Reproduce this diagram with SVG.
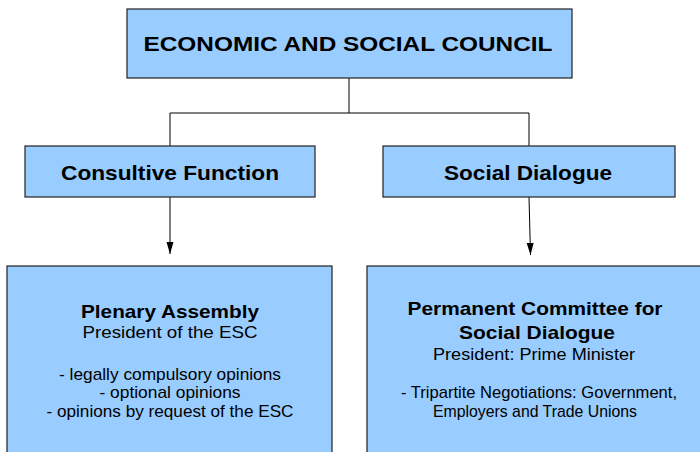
<svg xmlns="http://www.w3.org/2000/svg" width="700" height="452" viewBox="0 0 700 452">
<style>
.box{fill:#99ccff;stroke:#222;stroke-width:1.2}
.ln{fill:none;stroke:#000;stroke-width:1}
text{font-family:"Liberation Sans",Arial,sans-serif;fill:#000;text-anchor:middle}
.b{font-weight:bold}
.t20{font-size:21px}
.t18{font-size:19px}
.t17{font-size:17px}
</style>
<defs>
<marker id="ah" viewBox="0 0 12 8" refX="12" refY="4" markerWidth="12" markerHeight="8" markerUnits="userSpaceOnUse" orient="auto">
<path d="M0,0.5 L12,4 L0,7.5 z" fill="#000"/>
</marker>
</defs>
<rect width="700" height="452" fill="#fff"/>
<g id="connectors">
<path class="ln" d="M349,78 V113 M170,146 V113 H529 V146"/>
<path class="ln" d="M170,197 L170,254" marker-end="url(#ah)"/>
<path class="ln" d="M529,197 L530.5,255" marker-end="url(#ah)"/>
</g>
<g id="council">
<rect class="box" x="127" y="9" width="445" height="69"/>
<text class="b t20" x="348" y="51" textLength="409" lengthAdjust="spacingAndGlyphs">ECONOMIC AND SOCIAL COUNCIL</text>
</g>
<g id="consultive">
<rect class="box" x="25" y="146" width="290" height="51"/>
<text class="b t20" x="170" y="180" textLength="218" lengthAdjust="spacingAndGlyphs">Consultive Function</text>
</g>
<g id="dialogue">
<rect class="box" x="383" y="146" width="292" height="51"/>
<text class="b t20" x="528" y="180" textLength="168" lengthAdjust="spacingAndGlyphs">Social Dialogue</text>
</g>
<g id="plenary">
<rect class="box" x="7" y="266" width="325" height="200"/>
<text class="b t18" x="170" y="318" textLength="178" lengthAdjust="spacingAndGlyphs">Plenary Assembly</text>
<text class="t17" x="170" y="338" textLength="175" lengthAdjust="spacingAndGlyphs">President of the ESC</text>
<text class="t17" x="170" y="380" textLength="222" lengthAdjust="spacingAndGlyphs">- legally compulsory opinions</text>
<text class="t17" x="170" y="398" textLength="141" lengthAdjust="spacingAndGlyphs">- optional opinions</text>
<text class="t17" x="170" y="417" textLength="247" lengthAdjust="spacingAndGlyphs">- opinions by request of the ESC</text>
</g>
<g id="committee">
<rect class="box" x="367" y="266" width="360" height="200"/>
<text class="b t18" x="535" y="315" textLength="255" lengthAdjust="spacingAndGlyphs">Permanent Committee for</text>
<text class="b t18" x="537" y="339" textLength="156" lengthAdjust="spacingAndGlyphs">Social Dialogue</text>
<text class="t17" x="534" y="360" textLength="202" lengthAdjust="spacingAndGlyphs">President: Prime Minister</text>
<text class="t17" x="539" y="398" textLength="276" lengthAdjust="spacingAndGlyphs">- Tripartite Negotiations: Government,</text>
<text class="t17" x="535" y="417" textLength="204" lengthAdjust="spacingAndGlyphs">Employers and Trade Unions</text>
</g>
</svg>
